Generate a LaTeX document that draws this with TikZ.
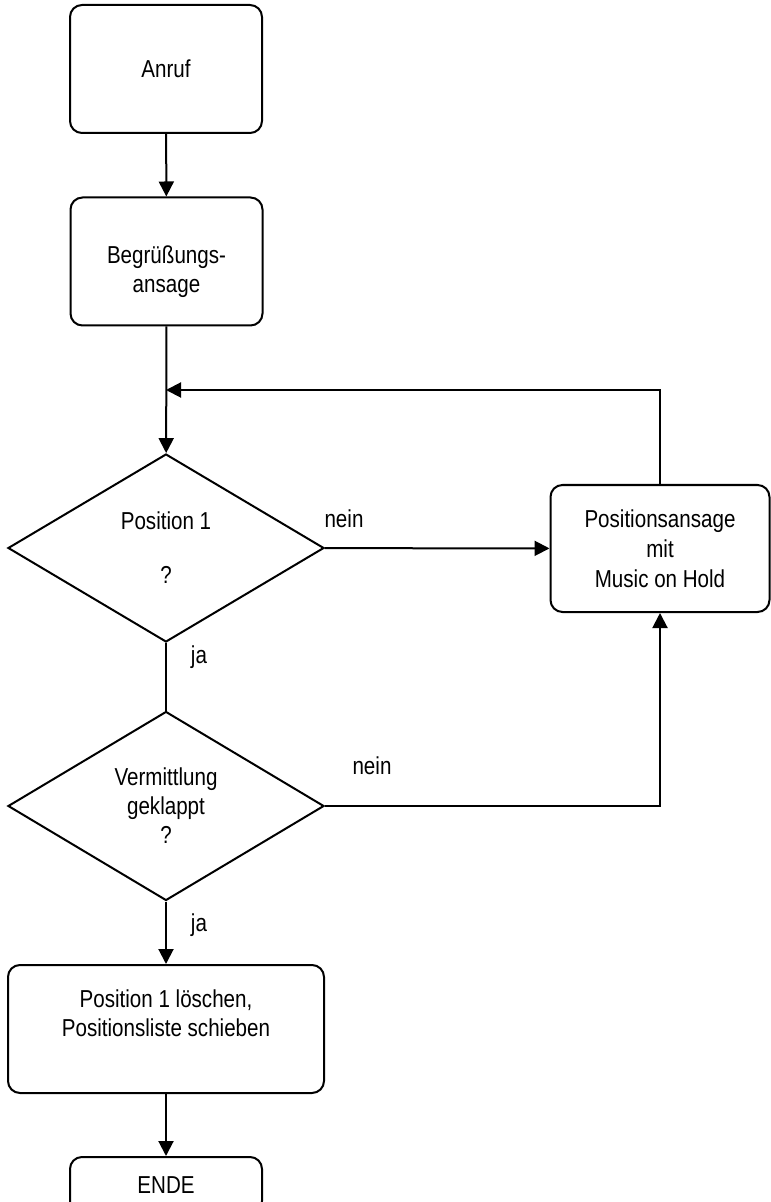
\documentclass[tikz,border=0pt]{standalone}
\usepackage{fontspec}
\setmainfont{Liberation Sans}[FakeStretch=0.84]
\usetikzlibrary{arrows.meta, shapes.geometric}

\begin{document}
\begin{tikzpicture}[x = 0.5pt, y = -0.5pt, line width = 1pt, font = \fontsize{12.25}{14.5}\selectfont]
\tikzstyle{BoxStyle}=[
shape = rectangle,
rounded corners = 6pt,
align = center,
inner sep = 0pt,
draw]
\tikzstyle{TestStyle}=[
shape = diamond,
minimum width = 158pt,
minimum height = 94pt,
align = center,
inner sep = 0pt,
draw]
\tikzstyle{post}=[-{Triangle[length = 7.5pt, width = 7.5pt]}]
\useasboundingbox (0, 0) rectangle (770, 1202);
\node[BoxStyle, minimum width = 96pt, minimum height = 64pt] (anruf) at (166, 69) {Anruf};
\node[BoxStyle, minimum width = 96pt, minimum height = 64pt, label = {[align = center, yshift = -5pt]center:{Begrüßungs-\\ansage}}] (begr) at (166.5, 261.5) {};
\node[TestStyle] (pos1) at (166, 548) {Position 1\\[12.5pt]?};
\node[BoxStyle, minimum width = 109.5pt, minimum height = 63.5pt] (posans) at (660, 548.5) {Positionsansage\\[0.5pt]mit\\[0.5pt]Music on Hold};
\node[TestStyle, minimum height = 94.5pt] (verm) at (166, 806) {Vermittlung\\geklappt\\?};
\node[BoxStyle, minimum width = 158pt, minimum height = 64pt, label = {[align = center, yshift = 8pt]center:{Position 1 löschen,\\Positionsliste schieben}}] (loesch) at (166, 1029) {};
\node[BoxStyle, minimum width = 96pt, minimum height = 28pt] (ende) at (166, 1185) {ENDE};
\coordinate (back) at (166, 390);
\node (nein1) at (344, 519) {nein};
\node (ja1) at (199, 657) {ja};
\node (nein2) at (372, 766) {nein};
\node (ja2) at (199, 925) {ja};
\draw[post] (anruf) -- (begr);
\draw[post] (begr) -- (pos1);
\draw[post] (posans) |- (back);
\draw[post] (pos1) -- (posans);
\draw (pos1) -- (verm);
\draw[post] (verm) -| (posans);
\draw[post] (verm) -- (loesch);
\draw[post] (loesch) -- (ende);
\end{tikzpicture}
\end{document}
